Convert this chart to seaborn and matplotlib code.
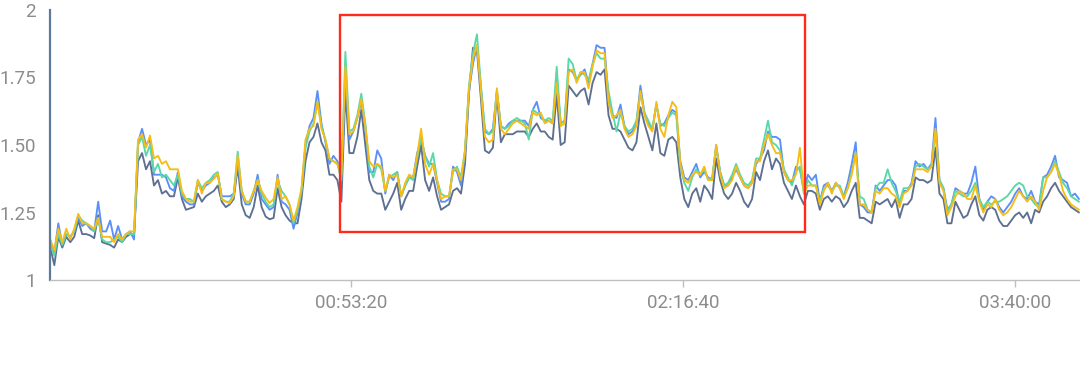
import numpy as np
import pandas as pd
import matplotlib
matplotlib.use("Agg")
import matplotlib.pyplot as plt
from matplotlib.patches import Rectangle
from matplotlib.ticker import FuncFormatter, FixedLocator
import seaborn as sns

# ---------------- data ----------------
start_seconds = -1320          # first sample (seconds, relative clock)
step_seconds = 60              # one sample per minute

series_names = ["blue", "green", "slate", "yellow"]
series_colors = ["#5B8FF9", "#5AD8A6", "#5D7092", "#F6BD16"]

slate = [
    1.12, 1.055, 1.16, 1.12, 1.16, 1.14, 1.16, 1.22, 1.17, 1.17,
    1.165, 1.155, 1.24, 1.14, 1.135, 1.13, 1.12, 1.15, 1.14, 1.16,
    1.17, 1.17, 1.44, 1.47, 1.41, 1.44, 1.35, 1.37, 1.32, 1.33,
    1.31, 1.31, 1.38, 1.30, 1.26, 1.265, 1.27, 1.32, 1.29, 1.31,
    1.32, 1.33, 1.35, 1.29, 1.27, 1.28, 1.30, 1.42, 1.28, 1.24,
    1.23, 1.27, 1.35, 1.27, 1.235, 1.225, 1.23, 1.34, 1.27, 1.24,
    1.22, 1.21, 1.21, 1.30, 1.44, 1.51, 1.53, 1.58, 1.51, 1.48,
    1.39, 1.39, 1.37, 1.29, 1.70, 1.47, 1.47, 1.53, 1.63, 1.50,
    1.37, 1.33, 1.32, 1.32, 1.26, 1.29, 1.32, 1.36, 1.26, 1.30,
    1.33, 1.33, 1.42, 1.50, 1.37, 1.33, 1.38, 1.31, 1.26, 1.27,
    1.28, 1.33, 1.34, 1.32, 1.43, 1.69, 1.86, 1.85, 1.67, 1.48,
    1.47, 1.49, 1.69, 1.51, 1.54, 1.54, 1.54, 1.55, 1.55, 1.55,
    1.53, 1.56, 1.58, 1.55, 1.55, 1.53, 1.52, 1.69, 1.50, 1.51,
    1.72, 1.70, 1.68, 1.70, 1.71, 1.65, 1.73, 1.77, 1.76, 1.78,
    1.61, 1.56, 1.56, 1.55, 1.52, 1.49, 1.48, 1.51, 1.64, 1.58,
    1.53, 1.48, 1.58, 1.47, 1.46, 1.52, 1.53, 1.51, 1.38, 1.30,
    1.27, 1.32, 1.34, 1.29, 1.35, 1.33, 1.30, 1.45, 1.37, 1.32,
    1.30, 1.32, 1.36, 1.33, 1.29, 1.27, 1.30, 1.40, 1.37, 1.44,
    1.48, 1.41, 1.45, 1.43, 1.36, 1.33, 1.30, 1.35, 1.31, 1.28,
    1.33, 1.33, 1.32, 1.26, 1.30, 1.31, 1.29, 1.31, 1.30, 1.27,
    1.29, 1.33, 1.36, 1.23, 1.23, 1.22, 1.21, 1.29, 1.28, 1.29,
    1.30, 1.27, 1.30, 1.23, 1.28, 1.28, 1.30, 1.38, 1.37, 1.37,
    1.36, 1.37, 1.49, 1.32, 1.30, 1.21, 1.21, 1.29, 1.26, 1.23,
    1.24, 1.28, 1.31, 1.24, 1.22, 1.26, 1.27, 1.26, 1.22, 1.20,
    1.20, 1.22, 1.24, 1.25, 1.23, 1.25, 1.21, 1.26, 1.25, 1.29,
    1.31, 1.34, 1.36, 1.33, 1.31, 1.29, 1.27, 1.26, 1.25,
]

yellow = [
    1.15, 1.11, 1.19, 1.14, 1.19, 1.15, 1.19, 1.245, 1.21, 1.21,
    1.20, 1.19, 1.23, 1.16, 1.16, 1.16, 1.14, 1.17, 1.15, 1.17,
    1.18, 1.18, 1.52, 1.54, 1.49, 1.535, 1.45, 1.46, 1.43, 1.44,
    1.41, 1.41, 1.41, 1.33, 1.30, 1.29, 1.29, 1.37, 1.32, 1.36,
    1.36, 1.375, 1.395, 1.30, 1.29, 1.285, 1.31, 1.46, 1.33, 1.29,
    1.29, 1.33, 1.37, 1.33, 1.305, 1.285, 1.30, 1.38, 1.30, 1.31,
    1.28, 1.22, 1.27, 1.34, 1.52, 1.56, 1.57, 1.66, 1.56, 1.52,
    1.45, 1.44, 1.43, 1.39, 1.79, 1.54, 1.55, 1.60, 1.67, 1.57,
    1.44, 1.42, 1.43, 1.42, 1.33, 1.39, 1.38, 1.39, 1.31, 1.36,
    1.39, 1.38, 1.46, 1.56, 1.43, 1.39, 1.43, 1.37, 1.30, 1.31,
    1.31, 1.41, 1.41, 1.37, 1.48, 1.71, 1.82, 1.87, 1.70, 1.53,
    1.51, 1.52, 1.71, 1.56, 1.54, 1.56, 1.58, 1.59, 1.58, 1.57,
    1.56, 1.62, 1.61, 1.62, 1.58, 1.59, 1.58, 1.73, 1.57, 1.58,
    1.77, 1.78, 1.73, 1.77, 1.77, 1.71, 1.79, 1.85, 1.84, 1.84,
    1.66, 1.60, 1.61, 1.63, 1.56, 1.53, 1.54, 1.57, 1.70, 1.61,
    1.57, 1.55, 1.66, 1.56, 1.53, 1.61, 1.66, 1.64, 1.43, 1.37,
    1.36, 1.39, 1.40, 1.39, 1.42, 1.37, 1.37, 1.50, 1.39, 1.34,
    1.35, 1.37, 1.42, 1.38, 1.35, 1.34, 1.36, 1.44, 1.44, 1.50,
    1.54, 1.50, 1.47, 1.47, 1.40, 1.37, 1.37, 1.39, 1.49, 1.32,
    1.35, 1.35, 1.35, 1.28, 1.33, 1.36, 1.32, 1.36, 1.34, 1.30,
    1.34, 1.39, 1.47, 1.28, 1.28, 1.26, 1.25, 1.33, 1.32, 1.34,
    1.34, 1.32, 1.31, 1.27, 1.32, 1.33, 1.35, 1.41, 1.41, 1.41,
    1.40, 1.42, 1.56, 1.36, 1.33, 1.24, 1.27, 1.31, 1.33, 1.32,
    1.30, 1.30, 1.35, 1.29, 1.25, 1.28, 1.27, 1.30, 1.26, 1.24,
    1.25, 1.27, 1.30, 1.33, 1.31, 1.29, 1.31, 1.29, 1.26, 1.33,
    1.38, 1.40, 1.43, 1.39, 1.33, 1.30, 1.28, 1.27, 1.26,
]

blue = [
    1.14, 1.10, 1.21, 1.13, 1.17, 1.16, 1.18, 1.23, 1.20, 1.21,
    1.19, 1.18, 1.29, 1.18, 1.18, 1.22, 1.15, 1.20, 1.15, 1.17,
    1.18, 1.15, 1.51, 1.56, 1.50, 1.52, 1.39, 1.39, 1.39, 1.38,
    1.34, 1.33, 1.40, 1.31, 1.29, 1.28, 1.28, 1.36, 1.33, 1.35,
    1.36, 1.38, 1.39, 1.31, 1.31, 1.31, 1.32, 1.44, 1.32, 1.28,
    1.28, 1.32, 1.39, 1.30, 1.28, 1.26, 1.27, 1.39, 1.29, 1.28,
    1.26, 1.19, 1.25, 1.33, 1.50, 1.57, 1.60, 1.70, 1.58, 1.51,
    1.43, 1.46, 1.44, 1.38, 1.74, 1.52, 1.55, 1.60, 1.66, 1.57,
    1.40, 1.40, 1.48, 1.45, 1.32, 1.39, 1.37, 1.40, 1.31, 1.35,
    1.38, 1.38, 1.47, 1.52, 1.46, 1.43, 1.43, 1.36, 1.29, 1.29,
    1.30, 1.42, 1.40, 1.35, 1.47, 1.70, 1.80, 1.87, 1.71, 1.55,
    1.54, 1.56, 1.70, 1.57, 1.56, 1.58, 1.59, 1.59, 1.59, 1.59,
    1.57, 1.63, 1.66, 1.60, 1.59, 1.59, 1.58, 1.75, 1.58, 1.59,
    1.78, 1.77, 1.74, 1.76, 1.78, 1.73, 1.80, 1.87, 1.86, 1.86,
    1.67, 1.61, 1.60, 1.65, 1.57, 1.54, 1.55, 1.58, 1.72, 1.62,
    1.58, 1.56, 1.65, 1.57, 1.58, 1.61, 1.63, 1.62, 1.44, 1.38,
    1.37, 1.40, 1.43, 1.38, 1.40, 1.38, 1.37, 1.50, 1.40, 1.35,
    1.35, 1.38, 1.41, 1.38, 1.35, 1.34, 1.36, 1.43, 1.45, 1.48,
    1.55, 1.53, 1.53, 1.52, 1.40, 1.37, 1.36, 1.42, 1.41, 1.33,
    1.39, 1.37, 1.39, 1.29, 1.35, 1.36, 1.33, 1.36, 1.34, 1.31,
    1.36, 1.43, 1.51, 1.28, 1.27, 1.25, 1.25, 1.35, 1.33, 1.35,
    1.37, 1.37, 1.35, 1.28, 1.33, 1.33, 1.36, 1.44, 1.42, 1.43,
    1.41, 1.43, 1.60, 1.37, 1.34, 1.26, 1.28, 1.34, 1.33, 1.32,
    1.32, 1.36, 1.42, 1.30, 1.26, 1.29, 1.31, 1.30, 1.27, 1.25,
    1.27, 1.29, 1.32, 1.34, 1.31, 1.30, 1.33, 1.29, 1.28, 1.38,
    1.39, 1.42, 1.46, 1.38, 1.37, 1.36, 1.31, 1.32, 1.30,
]

green = [
    1.13, 1.09, 1.17, 1.13, 1.17, 1.16, 1.18, 1.24, 1.22, 1.21,
    1.20, 1.18, 1.23, 1.15, 1.14, 1.14, 1.15, 1.16, 1.14, 1.17,
    1.17, 1.17, 1.50, 1.53, 1.46, 1.50, 1.40, 1.43, 1.38, 1.39,
    1.37, 1.35, 1.39, 1.32, 1.30, 1.30, 1.29, 1.37, 1.34, 1.36,
    1.37, 1.39, 1.40, 1.30, 1.29, 1.29, 1.32, 1.475, 1.33, 1.29,
    1.29, 1.33, 1.37, 1.32, 1.29, 1.27, 1.28, 1.37, 1.33, 1.31,
    1.28, 1.21, 1.26, 1.33, 1.49, 1.55, 1.58, 1.66, 1.57, 1.52,
    1.45, 1.44, 1.43, 1.37, 1.845, 1.55, 1.56, 1.61, 1.69, 1.58,
    1.42, 1.38, 1.43, 1.41, 1.33, 1.38, 1.39, 1.40, 1.31, 1.35,
    1.38, 1.37, 1.45, 1.53, 1.46, 1.42, 1.47, 1.37, 1.32, 1.31,
    1.31, 1.40, 1.42, 1.38, 1.48, 1.72, 1.84, 1.91, 1.72, 1.56,
    1.54, 1.55, 1.70, 1.57, 1.56, 1.57, 1.59, 1.60, 1.59, 1.58,
    1.52, 1.63, 1.62, 1.61, 1.59, 1.60, 1.59, 1.79, 1.58, 1.59,
    1.82, 1.80, 1.74, 1.77, 1.76, 1.74, 1.80, 1.84, 1.82, 1.82,
    1.70, 1.62, 1.55, 1.62, 1.57, 1.55, 1.56, 1.59, 1.69, 1.62,
    1.59, 1.56, 1.65, 1.58, 1.57, 1.60, 1.62, 1.61, 1.42, 1.36,
    1.33, 1.38, 1.41, 1.39, 1.41, 1.37, 1.38, 1.49, 1.40, 1.35,
    1.36, 1.39, 1.43, 1.39, 1.36, 1.35, 1.37, 1.45, 1.45, 1.52,
    1.59, 1.51, 1.50, 1.48, 1.41, 1.38, 1.35, 1.40, 1.42, 1.32,
    1.37, 1.35, 1.35, 1.29, 1.34, 1.35, 1.33, 1.35, 1.35, 1.31,
    1.34, 1.40, 1.47, 1.31, 1.30, 1.26, 1.25, 1.34, 1.36, 1.36,
    1.41, 1.36, 1.33, 1.29, 1.34, 1.34, 1.35, 1.42, 1.43, 1.42,
    1.41, 1.42, 1.55, 1.37, 1.34, 1.25, 1.28, 1.33, 1.32, 1.31,
    1.31, 1.33, 1.36, 1.30, 1.27, 1.29, 1.28, 1.29, 1.29, 1.30,
    1.31, 1.33, 1.35, 1.36, 1.35, 1.31, 1.30, 1.28, 1.27, 1.38,
    1.38, 1.40, 1.44, 1.40, 1.36, 1.34, 1.31, 1.30, 1.29,
]

x_tick_values = [3200, 8200, 13200]
y_tick_values = [1, 1.25, 1.5, 1.75, 2]
y_tick_labels = ["1", "1.25", "1.50", "1.75", "2"]

# highlighted window (red box)
highlight_t = [3040, 10035]
highlight_v = [1.178, 1.981]

# ---------------- build long table ----------------
n = len(slate)
times = [start_seconds + step_seconds * i for i in range(n)]
values = {"blue": blue, "green": green, "slate": slate, "yellow": yellow}
frames = []
for name in series_names:
    vals = values[name]
    frames.append(pd.DataFrame({"t": times[:len(vals)], "value": vals, "series": name}))
df = pd.concat(frames, ignore_index=True)

# ---------------- plotting ----------------
sns.set_style("white")
plt.rcParams["font.family"] = ["Roboto", "DejaVu Sans"]

fig = plt.figure(figsize=(10.8, 3.72), dpi=100)
ax = fig.add_axes([50 / 1080, 92 / 372, 1030 / 1080, 270 / 372])

draw_order = ["slate", "blue", "green", "yellow"]
palette = dict(zip(series_names, series_colors))
sns.lineplot(data=df, x="t", y="value", hue="series", hue_order=draw_order,
             palette=palette, linewidth=1.35, ax=ax, legend=False,
             estimator=None, sort=False)

ax.add_patch(Rectangle((highlight_t[0], highlight_v[0]),
                       highlight_t[1] - highlight_t[0],
                       highlight_v[1] - highlight_v[0],
                       fill=False, edgecolor="#FF2A1A", linewidth=1.7, zorder=5))

ax.set_xlim(-1325, 14175)
ax.set_ylim(1, 2)

def fmt_time(v, pos=None):
    s = int(round(v)) % 86400
    return f"{s // 3600:02d}:{(s % 3600) // 60:02d}:{s % 60:02d}"

ax.xaxis.set_major_locator(FixedLocator(x_tick_values))
ax.xaxis.set_major_formatter(FuncFormatter(fmt_time))
ax.set_yticks(y_tick_values)
ax.set_yticklabels(y_tick_labels)
ax.set_xlabel("")
ax.set_ylabel("")

ax.tick_params(axis="x", length=5, width=1, color="#BFBFBF", pad=5,
               labelsize=13.5, labelcolor="#8C8C8C", direction="out")
ax.tick_params(axis="y", length=0, pad=10, labelsize=13.5, labelcolor="#8C8C8C")
ax.xaxis.set_ticks_position("bottom")

for s in ["top", "right"]:
    ax.spines[s].set_visible(False)
ax.spines["bottom"].set_color("#BFBFBF")
ax.spines["bottom"].set_linewidth(1)
ax.spines["left"].set_color("#5D7A9A")
ax.spines["left"].set_linewidth(1.6)

fig.savefig("out.png", dpi=100)
